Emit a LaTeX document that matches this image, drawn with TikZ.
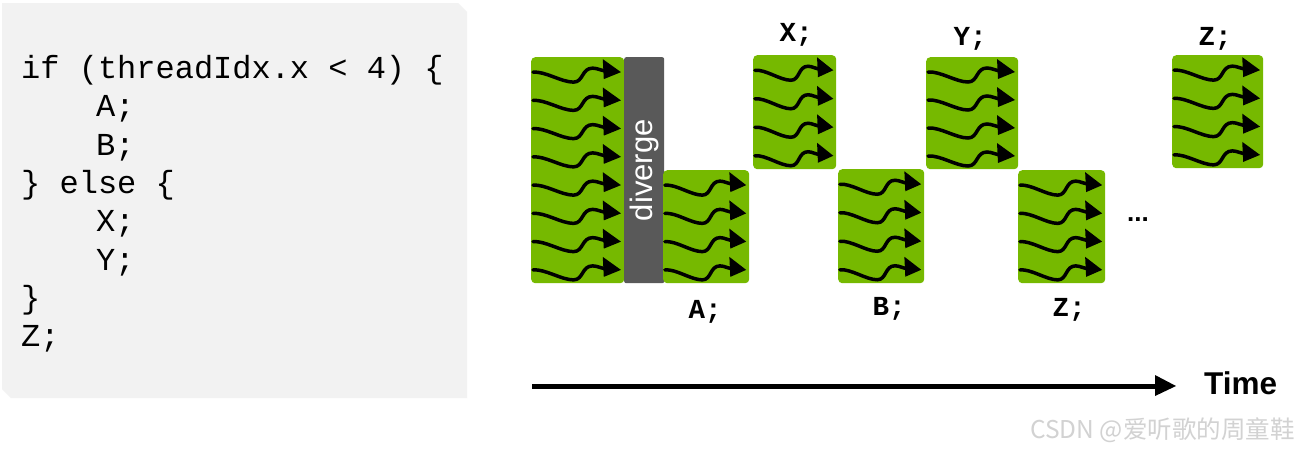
\documentclass[tikz,border=0pt]{standalone}
\usepackage{fontspec}
\setmonofont{Liberation Mono}
\setsansfont{Liberation Sans}
\newfontfamily\cjkwm{Noto Sans CJK SC}
\definecolor{panelgray}{HTML}{F2F2F2}
\definecolor{threadgreen}{HTML}{76B900}
\definecolor{divgray}{HTML}{595959}
\definecolor{wmgray}{HTML}{D2D2D2}
\tikzset{
  codeline/.style={anchor=base west,inner sep=0pt,font=\ttfamily\fontsize{32}{32}\selectfont,text=black},
  blocklabel/.style={anchor=base,inner sep=0pt,font=\ttfamily\bfseries\fontsize{27.5}{27.5}\selectfont},
  threadblock/.style={anchor=north west,inner sep=0pt,fill=threadgreen,rounded corners=4pt},
}
% name, left, top, right, bottom, rows
\newcommand{\threadblock}[6]{%
  \pgfmathsetmacro{\bw}{#4-#2}\pgfmathsetmacro{\bh}{#5-#3}%
  \node[threadblock,minimum width=\bw pt,minimum height=\bh pt] (#1) at (#2,#3) {};
  \pgfmathsetmacro{\bs}{\bw/92}\pgfmathsetmacro{\rp}{\bh/#6}%
  \foreach \r in {1,...,#6}{%
    \pgfmathsetmacro{\ry}{(\r-0.5)*\rp}%
    \begin{scope}[shift={(#1.north west)},yshift=-\ry pt,xscale=\bs]
      \draw[line width=3.5pt,line cap=round] (2,1) .. controls (14,0) and (30,11) .. (42,11)
        .. controls (52,11) and (50,-3) .. (61,-3) .. controls (66,-3) and (70,0) .. (76,0);
      \fill (71,-12) -- (89,1) -- (72,8) -- cycle;
    \end{scope}}%
}
\begin{document}
\begin{tikzpicture}[x=1pt,y=-1pt]
\useasboundingbox (0,0) rectangle (1298,451);
\fill[white] (0,0) rectangle (1298,451);
\fill[panelgray] (2,3) -- (458,3) -- (467,12) -- (467,398) -- (11,398) -- (2,389) -- cycle;
\node[codeline] (c1) at (21,78) {if (threadIdx.x < 4) \{};
\node[codeline] (c2) at (96,116) {A;};
\node[codeline] (c3) at (96,155) {B;};
\node[codeline] (c4) at (21,193) {\} else \{};
\node[codeline] (c5) at (96,231) {X;};
\node[codeline] (c6) at (96,270) {Y;};
\node[codeline] (c7) at (21,308) {\}};
\node[codeline] (c8) at (21,346) {Z;};

\threadblock{big}{531}{57}{624}{283}{8}
\node[anchor=north west,inner sep=0pt,fill=divgray,rounded corners=2pt,minimum width=40pt,minimum height=226pt] (div) at (624,57) {};
\node[inner sep=0pt,rotate=90,text=white,font=\sffamily\fontsize{31}{31}\selectfont] (divtxt) at (div.center) {diverge};
\threadblock{a}{663}{170}{749}{283}{4}
\threadblock{x}{753}{55}{836}{169}{4}
\threadblock{b}{838}{169}{924}{283}{4}
\threadblock{y}{926}{57}{1018}{169}{4}
\threadblock{z}{1018}{170}{1105}{283}{4}
\threadblock{zb}{1172}{55}{1263}{168}{4}

\node[blocklabel] (la) at (705,318) {A;};
\node[blocklabel] (lb) at (889,315) {B;};
\node[blocklabel] (lz) at (1069,316) {Z;};
\node[blocklabel] (lx) at (796,41) {X;};
\node[blocklabel] (ly) at (970,45) {Y;};
\node[blocklabel] (lzb) at (1215,45) {Z;};
\node[anchor=base,inner sep=0pt,font=\sffamily\bfseries\fontsize{26}{26}\selectfont] (dots) at (1138,221) {...};

\coordinate (t0) at (532,386);
\node[anchor=base west,inner sep=0pt,font=\sffamily\bfseries\fontsize{31.5}{31.5}\selectfont] (time) at (1204,394) {Time};
\coordinate (t1) at (1176,386);
\draw[line width=5pt] (t0) -- (1160,386);
\fill (1155,375) -- (t1) -- (1155,396) -- cycle;

\node[anchor=base west,inner sep=0pt,text=wmgray,font=\cjkwm\fontsize{24.5}{24.5}\selectfont] (wm) at (1030,438) {CSDN @爱听歌的周童鞋};
\end{tikzpicture}
\end{document}
